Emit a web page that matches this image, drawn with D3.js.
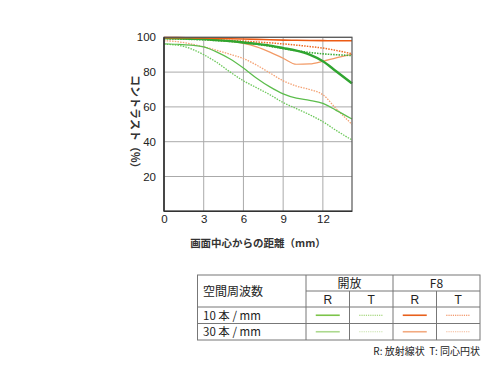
<!DOCTYPE html>
<html><head><meta charset="utf-8">
<script src="https://cdn.jsdelivr.net/npm/d3@7"></script>
<style>
body{margin:0;background:#fff;}
text{font-family:"Liberation Sans",Arial,"Noto Sans CJK JP",sans-serif;}
.jp{font-family:"Noto Sans CJK JP","Liberation Sans",sans-serif;}
</style></head>
<body>
<svg id="c" width="500" height="365"></svg>
<script>
// ---- data ----
const distances = [0,1,2,3,4,5,6,7,8,9,10,11,12,13,14.2];
const open10R = [99.5,99.4,99.2,99.0,98.4,97.8,97.0,96.2,95.2,93.8,92.3,90.0,86.2,80.5,73.5];
const open10T = [99.2,99.0,98.8,98.5,98.1,97.6,97.0,96.0,94.8,93.5,92.3,91.3,90.5,90.0,89.5];
const open30R = [96.3,96.0,95.5,94.5,91.5,87.5,82.3,76.5,71.5,67.5,65.0,63.8,62.0,58.0,53.0];
const open30T = [96.0,95.5,93.5,90.0,85.5,80.0,75.0,71.0,67.0,62.5,59.0,55.5,51.5,46.5,41.0];
const f8_10R  = [99.8,99.8,99.7,99.6,99.4,99.2,99.0,98.8,98.6,98.4,98.3,98.2,98.1,98.0,98.0];
const f8_10T  = [99.4,99.3,99.1,98.9,98.6,98.2,97.8,97.3,96.8,96.2,95.5,94.7,93.8,92.5,90.5];
const f8_30R  = [99.6,99.5,99.3,99.0,98.4,97.6,96.5,94.5,91.5,88.0,84.5,84.7,86.2,88.2,90.2];
const f8_30T  = [98.0,97.5,96.2,94.5,92.5,90.2,87.8,84.0,79.5,75.0,72.0,70.0,67.0,59.0,50.0];
const xTicks = [0,3,6,9,12];
const yTicks = [20,40,60,80,100];
const tableCols = ["R","T","R","T"];
const tableGroups = ["開放","F8"];
const tableRows = ["10 本 / mm","30 本 / mm"];

const svg = d3.select("#c");
const x = d3.scaleLinear().domain([0,14.2]).range([164,352]);
const y = d3.scaleLinear().domain([0,100]).range([211.3,37.3]);

// grid
const g = svg.append("g");
g.selectAll(".vg").data(xTicks.slice(1)).join("line")
  .attr("x1",d=>x(d)).attr("x2",d=>x(d)).attr("y1",y(0)).attr("y2",y(100))
  .attr("stroke","#aaa").attr("stroke-width",1);
g.selectAll(".hg").data(yTicks).join("line")
  .attr("x1",x(0)).attr("x2",x(14.2)).attr("y1",d=>y(d)).attr("y2",d=>y(d))
  .attr("stroke","#aaa").attr("stroke-width",1);

// axes labels
const yAxis = d3.axisLeft(y).tickValues(yTicks).tickSize(0).tickPadding(8);
svg.append("g").attr("transform",`translate(${x(0)},0)`).call(yAxis)
  .call(a=>a.select(".domain").remove())
  .selectAll("text").attr("font-size",11.5).attr("fill","#222")
  .style("font-family","'Liberation Sans',Arial,sans-serif");
const xAxis = d3.axisBottom(x).tickValues(xTicks).tickSize(0).tickPadding(4);
svg.append("g").attr("transform",`translate(0,${y(0)})`).call(xAxis)
  .call(a=>a.select(".domain").remove())
  .selectAll("text").attr("font-size",11.5).attr("fill","#222")
  .style("font-family","'Liberation Sans',Arial,sans-serif");

// series
const series = [
  {v:f8_30T, c:"#f4a274", w:1.3, dash:"1.5,1.2"},
  {v:open30T, c:"#6cc85a", w:1.3, dash:"1.5,1.2"},
  {v:open30R, c:"#5cbd4c", w:1.2, dash:null},
  {v:f8_30R, c:"#f29a66", w:1.2, dash:null},
  {v:open10T, c:"#3fae3a", w:1.6, dash:"1.5,1.2"},
  {v:f8_10T, c:"#ee6a22", w:1.5, dash:"1.5,1.2"},
  {v:open10R, c:"#30a530", w:2.4, dash:null},
  {v:f8_10R, c:"#ec5a14", w:1.6, dash:null}
];
const line = d3.line().x((d,i)=>x(distances[i])).y(d=>y(d)).curve(d3.curveMonotoneX);
svg.append("g").selectAll("path").data(series).join("path")
  .attr("d",d=>line(d.v)).attr("fill","none")
  .attr("stroke",d=>d.c).attr("stroke-width",d=>d.w)
  .attr("stroke-dasharray",d=>d.dash);

// frame
svg.append("rect").attr("x",x(0)).attr("y",y(100)).attr("width",x(14.2)-x(0)).attr("height",y(0)-y(100))
  .attr("fill","none").attr("stroke","#555").attr("stroke-width",1.2);
svg.append("line").attr("x1",x(0)).attr("x2",x(0)).attr("y1",y(100)).attr("y2",y(0)).attr("stroke","#333").attr("stroke-width",1.6);
svg.append("line").attr("x1",x(0)).attr("x2",x(14.2)).attr("y1",y(0)).attr("y2",y(0)).attr("stroke","#333").attr("stroke-width",1.6);

// axis titles
svg.append("text").attr("class","jp").attr("transform",`translate(131,${(y(0)+y(100))/2}) rotate(90)`)
  .attr("text-anchor","middle").attr("font-size",11).attr("font-weight","bold").attr("fill","#333")
  .text("コントラスト（%）");
svg.append("text").attr("class","jp").attr("x",258).attr("y",247)
  .attr("text-anchor","middle").attr("font-size",10.5).attr("font-weight","bold").attr("fill","#333")
  .text("画面中心からの距離（mm）");

// table
const tX0=197.5, tX1=306, colW=43.5, tY=[275,291,307,323.5,340];
const tg = svg.append("g").attr("stroke","#777").attr("stroke-width",1);
tg.append("rect").attr("x",tX0).attr("y",tY[0]).attr("width",480-tX0).attr("height",tY[4]-tY[0]).attr("fill","none");
tg.append("line").attr("x1",tX1).attr("x2",480).attr("y1",tY[1]).attr("y2",tY[1]);
[2,3].forEach(i=>tg.append("line").attr("x1",tX0).attr("x2",480).attr("y1",tY[i]).attr("y2",tY[i]));
tableCols.forEach((c,i)=>{
  const xx = tX1+i*colW;
  tg.append("line").attr("x1",xx).attr("x2",xx).attr("y1",(i%2===1)?tY[1]:tY[0]).attr("y2",tY[4]);
});
svg.append("text").attr("class","jp").attr("x",203).attr("y",(tY[0]+tY[2])/2+4.5).attr("font-size",12).attr("fill","#222").text("空間周波数");
tableGroups.forEach((t,i)=>svg.append("text").attr("class","jp").attr("x",tX1+colW*(2*i+1)).attr("y",(tY[0]+tY[1])/2+4.5)
  .attr("text-anchor","middle").attr("font-size",12).attr("fill","#222").text(t));
tableCols.forEach((t,i)=>svg.append("text").attr("x",tX1+colW*(i+0.5)).attr("y",(tY[1]+tY[2])/2+4.5)
  .attr("text-anchor","middle").attr("font-size",12).attr("fill","#222").text(t));
tableRows.forEach((t,i)=>svg.append("text").attr("class","jp").attr("x",203).attr("y",(tY[i+2]+tY[i+3])/2+4.5)
  .attr("font-size",11.5).attr("fill","#222").style("white-space","pre").text(t));
const legendStyles = [
  [{c:"#7cc44a",dash:null},{c:"#8fcc5c",dash:"1.2,1"},{c:"#e8601c",dash:null},{c:"#ee7a40",dash:"1.2,1"}],
  [{c:"#acd98e",dash:null},{c:"#c8e2aa",dash:"1.2,1"},{c:"#f2aa80",dash:null},{c:"#f4b896",dash:"1.2,1"}]
];
legendStyles.forEach((row,r)=>row.forEach((s,i)=>{
  const cx = tX1+colW*(i+0.5), cy=(tY[r+2]+tY[r+3])/2;
  svg.append("line").attr("x1",cx-12).attr("x2",cx+12).attr("y1",cy).attr("y2",cy)
    .attr("stroke",s.c).attr("stroke-width",s.dash?1.2:1.6).attr("stroke-dasharray",s.dash);
}));
svg.append("text").attr("class","jp").attr("x",480).attr("y",355).attr("text-anchor","end")
  .attr("font-size",10).attr("fill","#222").style("white-space","pre").text("R: 放射線状  T: 同心円状");
</script>
</body></html>
